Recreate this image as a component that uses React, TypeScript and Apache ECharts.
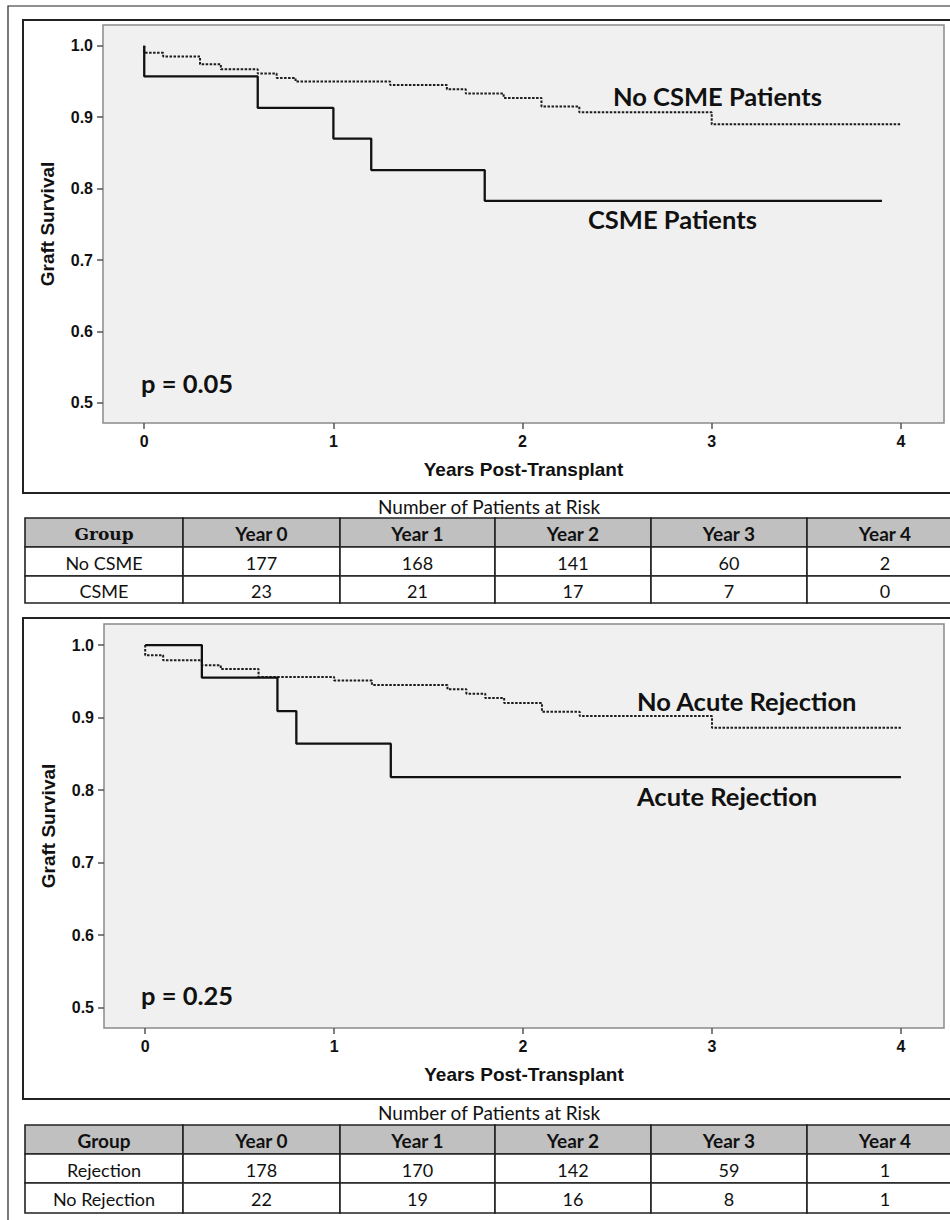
import React, { useEffect, useRef } from "react";
import * as echarts from "echarts";

// ---------- Data ----------
const yearTicks = [0, 1, 2, 3, 4];
const survivalTicks = [0.5, 0.6, 0.7, 0.8, 0.9, 1.0];

// Panel 1: CSME
const noCsmeTime = [0, 0, 0.1, 0.295, 0.405, 0.6, 0.7, 0.8, 1.3, 1.6, 1.7, 1.9, 2.1, 2.3, 3.0, 4.0];
const noCsmeSurv = [1.0, 0.99, 0.985, 0.974, 0.967, 0.961, 0.955, 0.95, 0.945, 0.939, 0.933, 0.927, 0.915, 0.907, 0.89, 0.89];
const csmeTime = [0, 0, 0.6, 1.0, 1.2, 1.8, 3.9];
const csmeSurv = [1.0, 0.957, 0.913, 0.87, 0.826, 0.783, 0.783];

// Panel 2: Acute rejection
const noRejTime = [0, 0, 0.095, 0.3, 0.4, 0.6, 1.0, 1.2, 1.6, 1.7, 1.8, 1.9, 2.1, 2.3, 3.0, 4.0];
const noRejSurv = [1.0, 0.986, 0.979, 0.972, 0.967, 0.956, 0.951, 0.945, 0.939, 0.933, 0.927, 0.92, 0.908, 0.902, 0.886, 0.886];
const rejTime = [0, 0.3, 0.7, 0.8, 1.3, 4.0];
const rejSurv = [1.0, 0.955, 0.909, 0.864, 0.818, 0.818];

// Risk tables
const riskHeaders = ["Group", "Year 0", "Year 1", "Year 2", "Year 3", "Year 4"];
const csmeRiskGroups = ["No CSME", "CSME"];
const csmeRiskCounts = [
  [177, 168, 141, 60, 2],
  [23, 21, 17, 7, 0],
];
const rejRiskGroups = ["Rejection", "No Rejection"];
const rejRiskCounts = [
  [178, 170, 142, 59, 1],
  [22, 19, 16, 8, 1],
];

const panelLabels = [
  { upper: "No CSME Patients", lower: "CSME Patients", p: "p = 0.05" },
  { upper: "No Acute Rejection", lower: "Acute Rejection", p: "p = 0.25" },
];

// ---------- Layout (positions/styles) ----------
const W = 950;
const H = 1220;
const colEdges = [25, 183, 340, 495, 651, 807, 963];
const grids = [
  { left: 103, top: 25, width: 841, height: 398 },
  { left: 104, top: 624, width: 840, height: 404 },
];
const tableRowsY = [
  [518, 547, 576, 603],
  [1125, 1154, 1183, 1213],
];
const tableTitleY = [506, 1112];
const frames = [
  { x: 23, y: 20, h: 473 },
  { x: 23, y: 618, h: 481 },
];
const labelPos = [
  { upper: [613, 96], lower: [588, 219], p: [141, 383] },
  { upper: [637, 701], lower: [637, 796], p: [141, 995] },
];

const AXIS_FONT = "'Liberation Sans', Arial, sans-serif";
const TEXT_FONT = "Lato, 'Open Sans', sans-serif";
const INK = "#111";

const pairs = (t: number[], v: number[]) => t.map((x, i) => [x, v[i]]);

function buildTable(idx: number, groups: string[], counts: number[][]) {
  const rows = tableRowsY[idx];
  const els: any[] = [];
  const allRows = [riskHeaders, ...groups.map((g, i) => [g, ...counts[i].map(String)])];
  allRows.forEach((row, r) => {
    row.forEach((cell, c) => {
      const x0 = colEdges[c];
      const x1 = colEdges[c + 1];
      const y0 = rows[r];
      const y1 = rows[r + 1];
      els.push({
        type: "rect",
        shape: { x: x0, y: y0, width: x1 - x0, height: y1 - y0 },
        style: { fill: r === 0 ? "#c0c0c0" : "#ffffff", stroke: "#222", lineWidth: 1.6 },
        z: 10,
      });
      const serif = idx === 0 && r === 0 && c === 0;
      els.push({
        type: "text",
        x: (x0 + x1) / 2,
        y: (y0 + y1) / 2 + 1,
        style: {
          text: cell,
          fill: INK,
          fontFamily: serif ? "'DejaVu Serif', serif" : TEXT_FONT,
          fontWeight: r === 0 ? "bold" : "normal",
          fontSize: serif ? 17 : r === 0 ? 19 : 18,
          align: "center",
          verticalAlign: "middle",
        },
        z: 11,
      });
    });
  });
  els.push({
    type: "text",
    x: 489,
    y: tableTitleY[idx],
    style: {
      text: "Number of Patients at Risk",
      fill: INK,
      fontFamily: TEXT_FONT,
      fontSize: 19,
      align: "center",
      verticalAlign: "middle",
    },
    z: 11,
  });
  return els;
}

function buildOption() {
  const xAxes = grids.map((_, i) => ({
    type: "value",
    gridIndex: i,
    position: "bottom",
    min: -0.218,
    max: 4.228,
    name: "Years Post-Transplant",
    nameLocation: "middle",
    nameGap: 37,
    nameTextStyle: { fontFamily: AXIS_FONT, fontWeight: "bold", fontSize: 19, color: INK },
    axisLine: { show: false, onZero: false },
    splitLine: { show: false },
    axisTick: {
      show: true,
      inside: false,
      length: 6,
      lineStyle: { color: "#555", width: 1.5 },
      customValues: yearTicks,
    },
    axisLabel: {
      customValues: yearTicks,
      fontFamily: AXIS_FONT,
      fontWeight: "bold",
      fontSize: 16,
      color: INK,
      margin: 10,
      formatter: (v: number) => String(v),
    },
  }));
  const yAxes = grids.map((_, i) => ({
    type: "value",
    gridIndex: i,
    position: "left",
    min: 0.472,
    max: 1.029,
    name: "Graft Survival",
    nameLocation: "middle",
    nameGap: 46,
    nameRotate: 90,
    nameTextStyle: { fontFamily: AXIS_FONT, fontWeight: "bold", fontSize: 19, color: INK },
    axisLine: { show: false, onZero: false },
    splitLine: { show: false },
    axisTick: {
      show: true,
      inside: false,
      length: 6,
      lineStyle: { color: "#555", width: 1.5 },
      customValues: survivalTicks,
    },
    axisLabel: {
      customValues: survivalTicks,
      fontFamily: AXIS_FONT,
      fontWeight: "bold",
      fontSize: 16,
      color: INK,
      margin: 10,
      formatter: (v: number) => v.toFixed(1),
    },
  }));

  const dotted = { type: [2.5, 1.5], width: 2, color: "#1c1c1c" };
  const solid = { type: "solid", width: 2.3, color: "#111" };
  const mk = (name: string, i: number, t: number[], v: number[], ls: any) => ({
    name,
    type: "line",
    xAxisIndex: i,
    yAxisIndex: i,
    step: "end",
    showSymbol: false,
    symbol: "none",
    lineStyle: ls,
    data: pairs(t, v),
    z: 3,
  });

  const series = [
    mk("No CSME Patients", 0, noCsmeTime, noCsmeSurv, dotted),
    mk("CSME Patients", 0, csmeTime, csmeSurv, solid),
    mk("No Acute Rejection", 1, noRejTime, noRejSurv, dotted),
    mk("Acute Rejection", 1, rejTime, rejSurv, solid),
  ];

  const graphics: any[] = [];
  graphics.push({
    type: "polyline",
    shape: { points: [[8, H + 5], [8, 6], [W + 5, 6]] },
    style: { fill: "none", stroke: "#222", lineWidth: 1.2 },
    z: 20,
  });
  frames.forEach((f) => {
    graphics.push({
      type: "rect",
      shape: { x: f.x, y: f.y, width: W + 10 - f.x, height: f.h },
      style: { fill: "none", stroke: "#222", lineWidth: 2 },
      z: 20,
    });
  });
  panelLabels.forEach((lab, i) => {
    const pos = labelPos[i];
    const mkText = (text: string, p: number[]) => ({
      type: "text",
      x: p[0],
      y: p[1],
      style: {
        text,
        fill: INK,
        fontFamily: TEXT_FONT,
        fontWeight: "bold",
        fontSize: 25.5,
        align: "left",
        verticalAlign: "middle",
      },
      z: 15,
    });
    graphics.push(mkText(lab.upper, pos.upper));
    graphics.push(mkText(lab.lower, pos.lower));
    graphics.push(mkText(lab.p, pos.p));
  });
  graphics.push(...buildTable(0, csmeRiskGroups, csmeRiskCounts));
  graphics.push(...buildTable(1, rejRiskGroups, rejRiskCounts));

  return {
    animation: false,
    backgroundColor: "#ffffff",
    grid: grids.map((g) => ({
      ...g,
      show: true,
      backgroundColor: "#f0f0f0",
      borderColor: "#8a8a8a",
      borderWidth: 1.5,
      containLabel: false,
    })),
    xAxis: xAxes,
    yAxis: yAxes,
    series,
    graphic: graphics,
  };
}

export default function App() {
  const ref = useRef<HTMLDivElement>(null);
  useEffect(() => {
    if (!ref.current) return;
    const chart = echarts.init(ref.current, null, { renderer: "svg" });
    chart.setOption(buildOption() as any);
    return () => chart.dispose();
  }, []);
  return (
    <div
      ref={ref}
      style={{ position: "absolute", left: 0, top: 0, width: W, height: H, background: "#fff" }}
    />
  );
}
